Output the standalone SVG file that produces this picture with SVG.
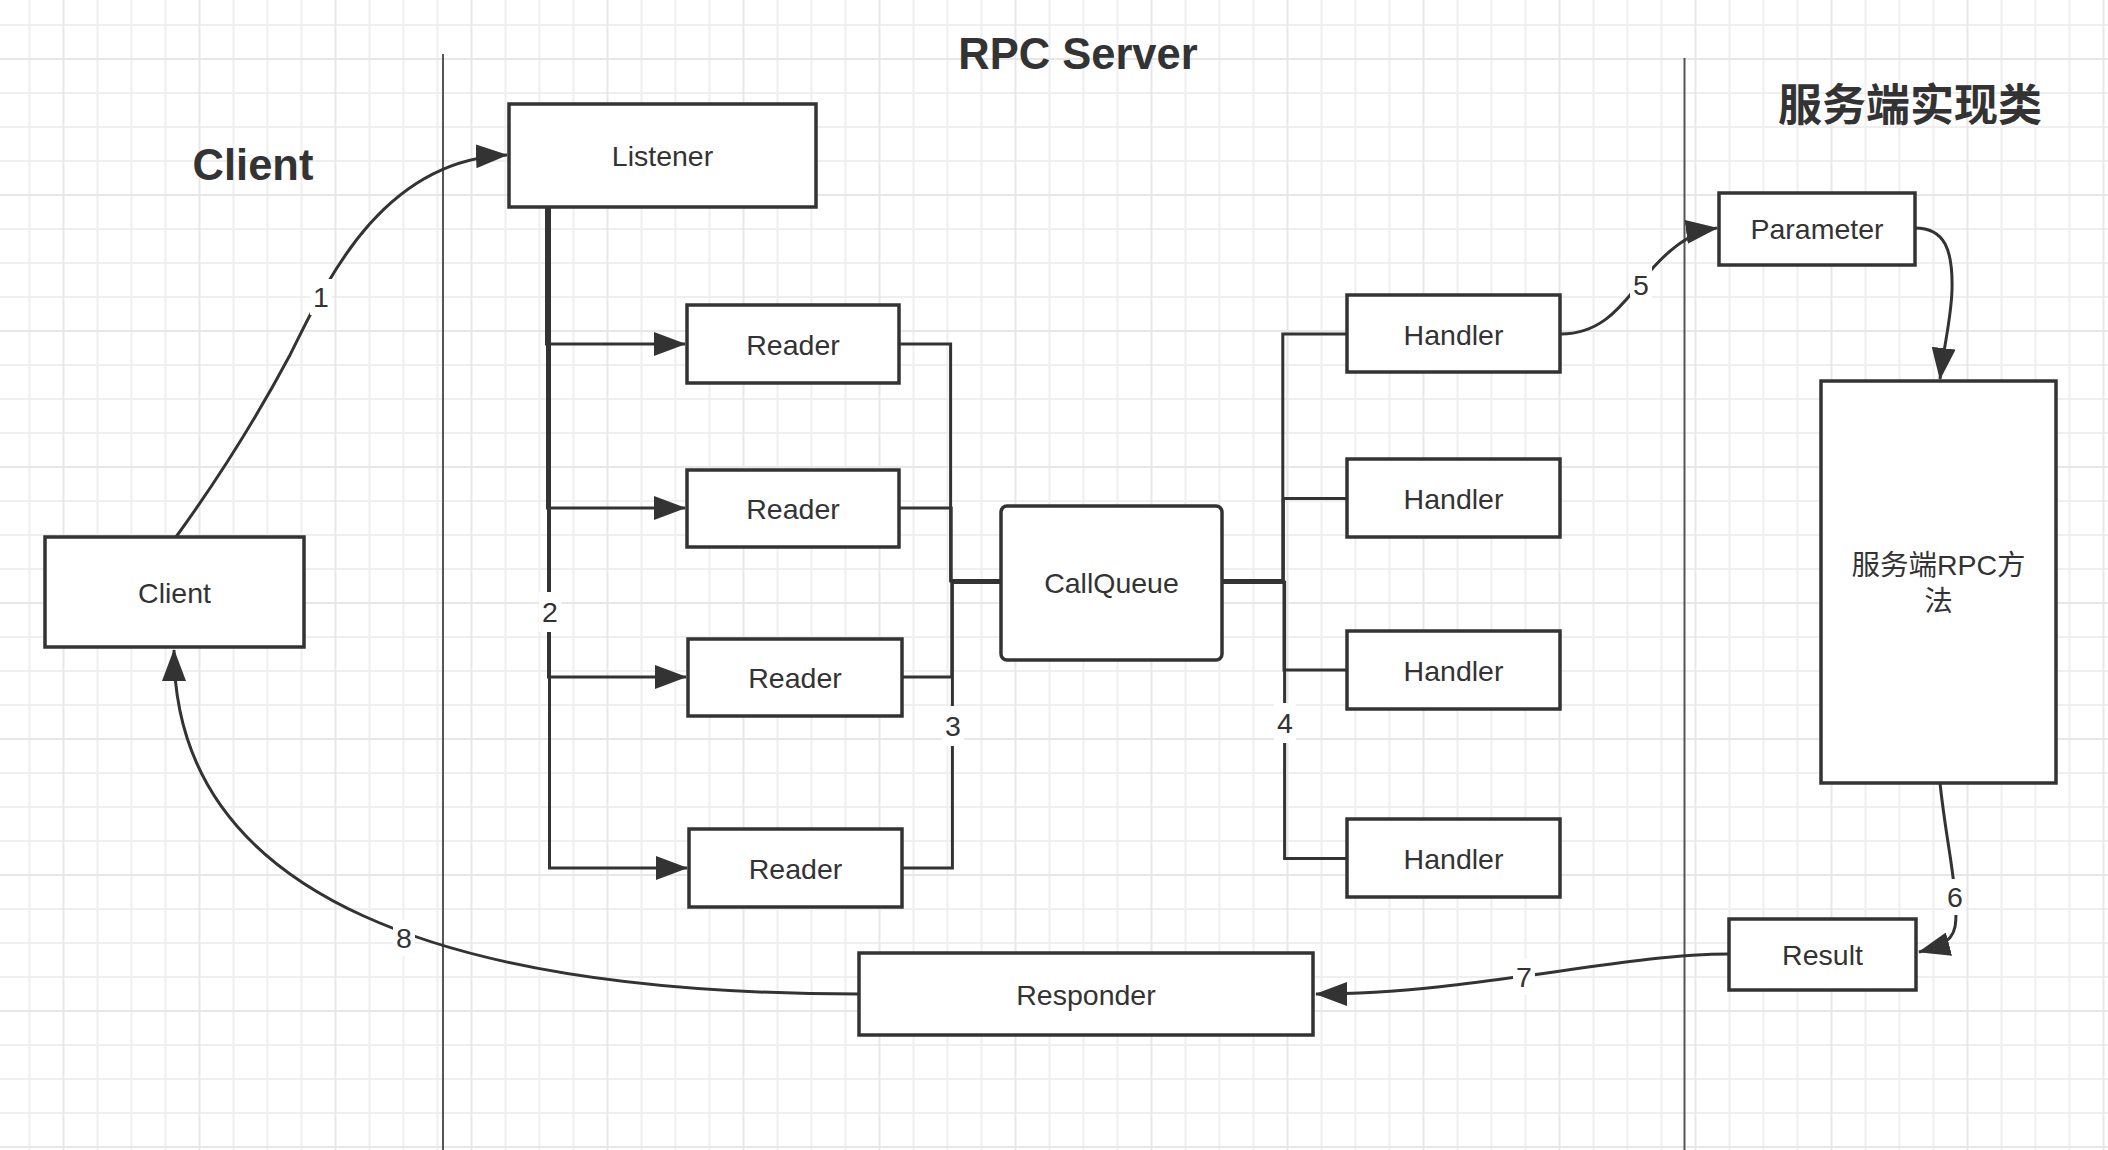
<svg xmlns="http://www.w3.org/2000/svg" width="2108" height="1150" viewBox="0 0 2108 1150">
  <defs>
    <pattern id="grid" patternUnits="userSpaceOnUse" x="-21.5" y="-26" width="136" height="136">
      <path d="M17,0V136M51,0V136M119,0V136M0,17H136M0,51H136M0,119H136" stroke="#efefef" stroke-width="2" fill="none"/>
      <path d="M85,0V136M0,85H136" stroke="#e7e7e7" stroke-width="2" fill="none"/>
    </pattern>
    <marker id="arrow" markerUnits="userSpaceOnUse" markerWidth="32" markerHeight="24" viewBox="0 0 32 24" refX="31" refY="12" orient="auto">
      <path d="M0,0 L32,12 L0,24 Z" fill="#333"/>
    </marker>
    <style>
      .box { fill: #ffffff; stroke: #333333; stroke-width: 3.5; }
      .lbl { font-family: "Liberation Sans", Arial, Helvetica, sans-serif; font-size: 28.5px; fill: #333333; text-anchor: middle; }
      .cjk { font-family: "Liberation Sans", "Noto Sans CJK SC", sans-serif; font-size: 28.5px; fill: #333333; text-anchor: middle; }
      .title { font-family: "Liberation Sans", Arial, Helvetica, sans-serif; font-size: 43.5px; font-weight: bold; fill: #333333; text-anchor: middle; }
      .titlecjk { font-family: "Noto Sans CJK SC", sans-serif; font-size: 44px; font-weight: bold; fill: #333333; text-anchor: middle; }
      .edge { fill: none; stroke: #333333; stroke-width: 3; }
      .sep { stroke: #555555; stroke-width: 2; }
      .lblbg { fill: #ffffff; }
    </style>
  </defs>

  <rect x="0" y="0" width="2108" height="1150" fill="#ffffff"/>
  <rect x="0" y="0" width="2108" height="1150" fill="url(#grid)"/>

  <g id="separators">
    <line class="sep" x1="443" y1="54" x2="443" y2="1150"/>
    <line class="sep" x1="1684.5" y1="58" x2="1684.5" y2="1150"/>
  </g>

  <g id="titles">
    <text class="title" x="253" y="180">Client</text>
    <text class="title" x="1078" y="69">RPC Server</text>
    <text class="titlecjk" x="1910" y="121">服务端实现类</text>
  </g>

  <g id="connectors">
    <!-- 1: Client -> Listener -->
    <path class="edge" marker-end="url(#arrow)" d="M176,537 C210,490 250,430 290,355 C325,285 380,160 507,155"/>
    <!-- 2: Listener -> Readers -->
    <path class="edge" marker-end="url(#arrow)" d="M546.5,207 V344 H685"/>
    <path class="edge" marker-end="url(#arrow)" d="M547.5,207 V508 H685"/>
    <path class="edge" marker-end="url(#arrow)" d="M548.5,207 V677 H686"/>
    <path class="edge" marker-end="url(#arrow)" d="M549.5,207 V868 H687"/>
    <!-- 3: Readers -> CallQueue -->
    <path class="edge" d="M899,344 H950.6 V580.6 H1001"/>
    <path class="edge" d="M899,508 H951.2 V581.2 H1001"/>
    <path class="edge" d="M902,677 H951.8 V581.8 H1001"/>
    <path class="edge" d="M902,868 H952.4 V582.4 H1001"/>
    <!-- 4: CallQueue -> Handlers -->
    <path class="edge" d="M1222,580.6 H1282.8 V334 H1347"/>
    <path class="edge" d="M1222,581.2 H1283.4 V498.5 H1347"/>
    <path class="edge" d="M1222,581.8 H1284 V670 H1347"/>
    <path class="edge" d="M1222,582.4 H1284.6 V858.5 H1347"/>
    <!-- 5: Handler -> Parameter -->
    <path class="edge" marker-end="url(#arrow)" d="M1561,334 C1605,334 1625,300 1642,281 C1660,258 1685,232 1717,228"/>
    <!-- Parameter -> RPC method -->
    <path class="edge" marker-end="url(#arrow)" d="M1915,228 C1945,228 1953,250 1952,290 C1951,320 1944,345 1940,379"/>
    <!-- 6: RPC method -> Result -->
    <path class="edge" marker-end="url(#arrow)" d="M1940,783 C1946,840 1956,880 1956,912 C1956,935 1953,943 1919,952"/>
    <!-- 7: Result -> Responder -->
    <path class="edge" marker-end="url(#arrow)" d="M1729,954 C1620,954 1470,994 1316,994"/>
    <!-- 8: Responder -> Client -->
    <path class="edge" marker-end="url(#arrow)" d="M859,994 C450,994 174,900 174,650"/>

    <g id="edge-labels">
      <rect class="lblbg" x="310" y="279" width="22" height="36"/>
      <text class="lbl" x="321" y="307">1</text>
      <rect class="lblbg" x="539" y="592" width="22" height="40"/>
      <text class="lbl" x="550" y="622">2</text>
      <rect class="lblbg" x="942" y="706" width="22" height="40"/>
      <text class="lbl" x="953" y="736">3</text>
      <rect class="lblbg" x="1274" y="703" width="22" height="40"/>
      <text class="lbl" x="1285" y="733">4</text>
      <rect class="lblbg" x="1630" y="267" width="22" height="36"/>
      <text class="lbl" x="1641" y="295">5</text>
      <rect class="lblbg" x="1944" y="879" width="22" height="36"/>
      <text class="lbl" x="1955" y="907">6</text>
      <rect class="lblbg" x="1513" y="959" width="22" height="36"/>
      <text class="lbl" x="1524" y="987">7</text>
      <rect class="lblbg" x="393" y="920" width="22" height="36"/>
      <text class="lbl" x="404" y="948">8</text>
    </g>
  </g>

  <g id="node-client">
    <rect class="box" x="45" y="537" width="259" height="110"/>
    <text class="lbl" x="174.5" y="603">Client</text>
  </g>
  <g id="node-listener">
    <rect class="box" x="509" y="104" width="307" height="103"/>
    <text class="lbl" x="662.5" y="165.5">Listener</text>
  </g>
  <g id="node-reader1">
    <rect class="box" x="687" y="305" width="212" height="78"/>
    <text class="lbl" x="793" y="354.5">Reader</text>
  </g>
  <g id="node-reader2">
    <rect class="box" x="687" y="470" width="212" height="77"/>
    <text class="lbl" x="793" y="519">Reader</text>
  </g>
  <g id="node-reader3">
    <rect class="box" x="688" y="639" width="214" height="77"/>
    <text class="lbl" x="795" y="688">Reader</text>
  </g>
  <g id="node-reader4">
    <rect class="box" x="689" y="829" width="213" height="78"/>
    <text class="lbl" x="795.5" y="878.5">Reader</text>
  </g>
  <g id="node-callqueue">
    <rect class="box" x="1001" y="506" width="221" height="154" rx="6" ry="6"/>
    <text class="lbl" x="1111.5" y="593">CallQueue</text>
  </g>
  <g id="node-handler1">
    <rect class="box" x="1347" y="295" width="213" height="77"/>
    <text class="lbl" x="1453.5" y="344.5">Handler</text>
  </g>
  <g id="node-handler2">
    <rect class="box" x="1347" y="459" width="213" height="78"/>
    <text class="lbl" x="1453.5" y="509">Handler</text>
  </g>
  <g id="node-handler3">
    <rect class="box" x="1347" y="631" width="213" height="78"/>
    <text class="lbl" x="1453.5" y="681">Handler</text>
  </g>
  <g id="node-handler4">
    <rect class="box" x="1347" y="819" width="213" height="78"/>
    <text class="lbl" x="1453.5" y="869">Handler</text>
  </g>
  <g id="node-parameter">
    <rect class="box" x="1719" y="193" width="196" height="72"/>
    <text class="lbl" x="1817" y="239">Parameter</text>
  </g>
  <g id="node-rpc-method">
    <rect class="box" x="1821" y="381" width="235" height="402"/>
    <text class="cjk" x="1938.5" y="575">服务端RPC方</text>
    <text class="cjk" x="1938.5" y="611">法</text>
  </g>
  <g id="node-result">
    <rect class="box" x="1729" y="919" width="187" height="71"/>
    <text class="lbl" x="1822.5" y="965">Result</text>
  </g>
  <g id="node-responder">
    <rect class="box" x="859" y="953" width="454" height="82"/>
    <text class="lbl" x="1086" y="1004.5">Responder</text>
  </g>
</svg>
